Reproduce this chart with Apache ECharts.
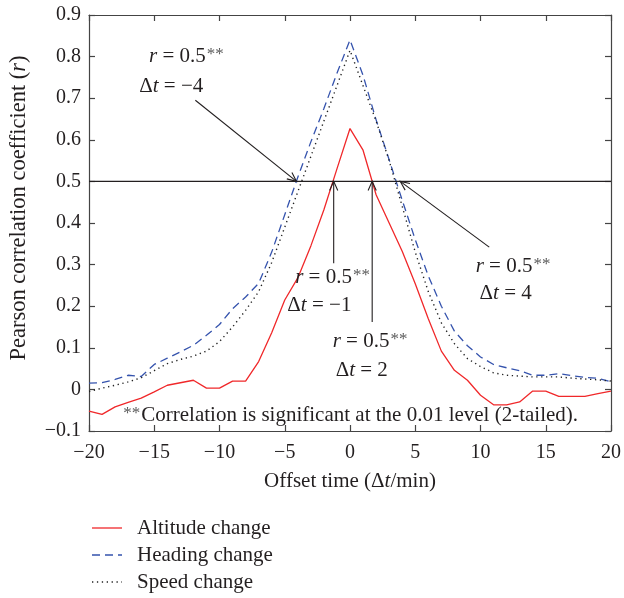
<!DOCTYPE html>
<html>
<head>
<meta charset="utf-8">
<script src="https://cdn.jsdelivr.net/npm/echarts@6/dist/echarts.min.js"></script>
<style>
  html, body { margin: 0; padding: 0; background: #fff; }
  #chart { width: 624px; height: 598px; }
</style>
</head>
<body>
<div id="chart"></div>
<script>
// Offset time in minutes
const offsets = [-20, -19, -18, -17, -16, -15, -14, -13, -12, -11, -10, -9, -8, -7, -6, -5, -4, -3, -2, -1,
                 0, 1, 2, 3, 4, 5, 6, 7, 8, 9, 10, 11, 12, 13, 14, 15, 16, 17, 18, 19, 20];

// Pearson correlation coefficient for each offset
const altitudeChange = [-0.052, -0.060, -0.042, -0.031, -0.021, -0.006, 0.010, 0.016, 0.022, 0.003, 0.003,
                        0.020, 0.020, 0.067, 0.136, 0.215, 0.268, 0.345, 0.432, 0.530,
                        0.627, 0.575, 0.468, 0.400, 0.332, 0.254, 0.170, 0.092, 0.046, 0.022, -0.014,
                        -0.037, -0.037, -0.030, -0.004, -0.004, -0.017, -0.017, -0.017, -0.010, -0.004];
const headingChange = [0.015, 0.016, 0.024, 0.034, 0.031, 0.060, 0.075, 0.090, 0.106, 0.130, 0.156,
                       0.194, 0.222, 0.255, 0.330, 0.420, 0.510, 0.595, 0.675, 0.760,
                       0.840, 0.755, 0.648, 0.552, 0.455, 0.360, 0.273, 0.200, 0.140, 0.105, 0.078,
                       0.060, 0.052, 0.045, 0.034, 0.034, 0.038, 0.033, 0.029, 0.027, 0.018];
const speedChange = [-0.005, 0.003, 0.010, 0.018, 0.028, 0.045, 0.062, 0.072, 0.080, 0.092, 0.115,
                     0.150, 0.190, 0.235, 0.305, 0.390, 0.475, 0.560, 0.645, 0.730,
                     0.815, 0.730, 0.645, 0.550, 0.440, 0.330, 0.235, 0.160, 0.110, 0.074, 0.055,
                     0.040, 0.034, 0.032, 0.030, 0.030, 0.030, 0.027, 0.025, 0.023, 0.020];

const seriesNames = ['Altitude change', 'Heading change', 'Speed change'];

// Significance threshold and the offsets where the curves cross it
const threshold = 0.5;
const crossings = [-4.1, -1.25, 1.7, 3.85];
const crossingLabels = ['−4', '−1', '2', '4'];

const FONT = 'Liberation Serif';
const INK = '#231f20';

// Callout layout (in axis units): arrow tail, and anchors of the two label lines
const callouts = [
  { tail: [-11.85, 0.695], rAt: [-15.4, 0.80], dtAt: [-16.15, 0.728] },
  { tail: [-1.25, 0.303],  rAt: [-4.2, 0.268], dtAt: [-4.8, 0.202] },
  { tail: [1.7, 0.162],    rAt: [-1.33, 0.114], dtAt: [-1.1, 0.046] },
  { tail: [10.67, 0.342],  rAt: [9.63, 0.295], dtAt: [9.93, 0.231] }
];
const footnoteAt = [-17.45, -0.062];

// Line styles shared by the series and the key below the plot
const lineStyles = [
  { color: '#f0282a', width: 1.3, type: 'solid' },
  { color: '#3553ad', width: 1.3, type: [8, 5] },
  { color: '#222222', width: 1.4, type: [1.3, 3.6] }
];

const pairs = vals => offsets.map((x, i) => [x, vals[i]]);
const minus = s => String(s).replace('-', '−');

const rich = {
  i: { fontFamily: FONT, fontStyle: 'italic', fontSize: 21, fill: INK, color: INK },
  n: { fontFamily: FONT, fontSize: 21, fill: INK, color: INK },
  sup: { fontFamily: FONT, fontSize: 17, fill: '#5a5a5a', color: '#5a5a5a', verticalAlign: 'top', padding: [0, 1, 0, 1] }
};
const titleRich = {
  i: { fontFamily: FONT, fontStyle: 'italic', fontSize: 21, color: INK }
};
const yTitleRich = {
  i: { fontFamily: FONT, fontStyle: 'italic', fontSize: 22.5, color: INK }
};

function arrowEls(tail, tip) {
  const a = Math.atan2(tip[1] - tail[1], tip[0] - tail[0]);
  const L = 10, w = 0.42;
  const p1 = [tip[0] - L * Math.cos(a - w), tip[1] - L * Math.sin(a - w)];
  const p2 = [tip[0] - L * Math.cos(a + w), tip[1] - L * Math.sin(a + w)];
  const st = { stroke: INK, lineWidth: 1.1, fill: null };
  return [
    { type: 'line', shape: { x1: tail[0], y1: tail[1], x2: tip[0], y2: tip[1] }, style: st },
    { type: 'polyline', shape: { points: [p1, tip, p2] }, style: st }
  ];
}

function textEl(pos, text) {
  return {
    type: 'text',
    x: pos[0], y: pos[1],
    style: { text: text, rich: rich, fontFamily: FONT, fontSize: 21, fill: INK,
             textAlign: 'left', textVerticalAlign: 'middle' }
  };
}

function renderNotes(params, api) {
  const children = [];
  const l = api.coord([-20, threshold]);
  const r = api.coord([20, threshold]);
  children.push({ type: 'line', shape: { x1: l[0], y1: l[1], x2: r[0], y2: r[1] },
                  style: { stroke: INK, lineWidth: 1.1 } });
  callouts.forEach((c, k) => {
    const tip = api.coord([crossings[k], threshold]);
    const tail = api.coord(c.tail);
    children.push(...arrowEls(tail, tip));
    children.push(textEl(api.coord(c.rAt), '{i|r}{n| = 0.5}{sup|**}'));
    children.push(textEl(api.coord(c.dtAt), '{n|Δ}{i|t}{n| = ' + crossingLabels[k] + '}'));
  });
  children.push(textEl(api.coord(footnoteAt),
    '{sup|**}{n|Correlation is significant at the 0.01 level (2-tailed).}'));
  return { type: 'group', children: children };
}

// Key below the plot: sample line followed by the series name
function keyElements() {
  const els = [];
  seriesNames.forEach((name, k) => {
    const y = 528 + k * 27;
    const ls = lineStyles[k];
    els.push({
      type: 'line', shape: { x1: 92, y1: y, x2: 122, y2: y },
      style: { stroke: ls.color, lineWidth: ls.width, lineDash: ls.type === 'solid' ? null : ls.type }
    });
    els.push({
      type: 'text', x: 137, y: y,
      style: { text: name, fontFamily: FONT, fontSize: 21, fill: INK, textVerticalAlign: 'middle' }
    });
  });
  return els;
}

const axisLabelStyle = { fontFamily: FONT, fontSize: 20, color: INK };
const frameLine = { show: true, onZero: false, lineStyle: { color: '#444', width: 1.2 } };
const innerTick = { show: true, inside: true, length: 6, lineStyle: { color: '#444', width: 1.2 } };

const chart = echarts.init(document.getElementById('chart'), null, { renderer: 'canvas' });
chart.setOption({
  animation: false,
  backgroundColor: '#fff',
  grid: { left: 86, right: 9, top: 15, bottom: 167, containLabel: false },
  graphic: keyElements(),
  xAxis: [
    {
      type: 'value', min: -20, max: 20, interval: 5, position: 'bottom',
      axisLine: frameLine, axisTick: innerTick, splitLine: { show: false },
      axisLabel: Object.assign({ margin: 12, formatter: v => minus(v) }, axisLabelStyle),
      name: 'Offset time (Δ{i|t}/min)', nameLocation: 'middle', nameGap: 40,
      nameTextStyle: { fontFamily: FONT, fontSize: 21, color: INK, rich: titleRich }
    },
    {
      type: 'value', min: -20, max: 20, interval: 5, position: 'top',
      axisLine: frameLine, axisTick: innerTick, splitLine: { show: false },
      axisLabel: { show: false }
    }
  ],
  yAxis: [
    {
      type: 'value', min: -0.1, max: 0.9, interval: 0.1, position: 'left',
      axisLine: frameLine, axisTick: innerTick, splitLine: { show: false },
      axisLabel: Object.assign({ margin: 8, formatter: v => minus(Math.round(v * 10) / 10) }, axisLabelStyle),
      name: 'Pearson correlation coefficient ({i|r})', nameLocation: 'middle', nameGap: 58,
      nameTextStyle: { fontFamily: FONT, fontSize: 22.5, color: INK, rich: yTitleRich, padding: [0, 0, 0, 30] }
    },
    {
      type: 'value', min: -0.1, max: 0.9, interval: 0.1, position: 'right',
      axisLine: frameLine, axisTick: innerTick, splitLine: { show: false },
      axisLabel: { show: false }
    }
  ],
  series: [
    {
      name: seriesNames[0], type: 'line', data: pairs(altitudeChange),
      showSymbol: false, symbol: 'none', lineStyle: lineStyles[0]
    },
    {
      name: seriesNames[1], type: 'line', data: pairs(headingChange),
      showSymbol: false, symbol: 'none', lineStyle: lineStyles[1]
    },
    {
      name: seriesNames[2], type: 'line', data: pairs(speedChange),
      showSymbol: false, symbol: 'none', lineStyle: lineStyles[2]
    },
    {
      type: 'custom', data: [0], renderItem: renderNotes, clip: false, silent: true, z: 5
    }
  ]
});
</script>
</body>
</html>
